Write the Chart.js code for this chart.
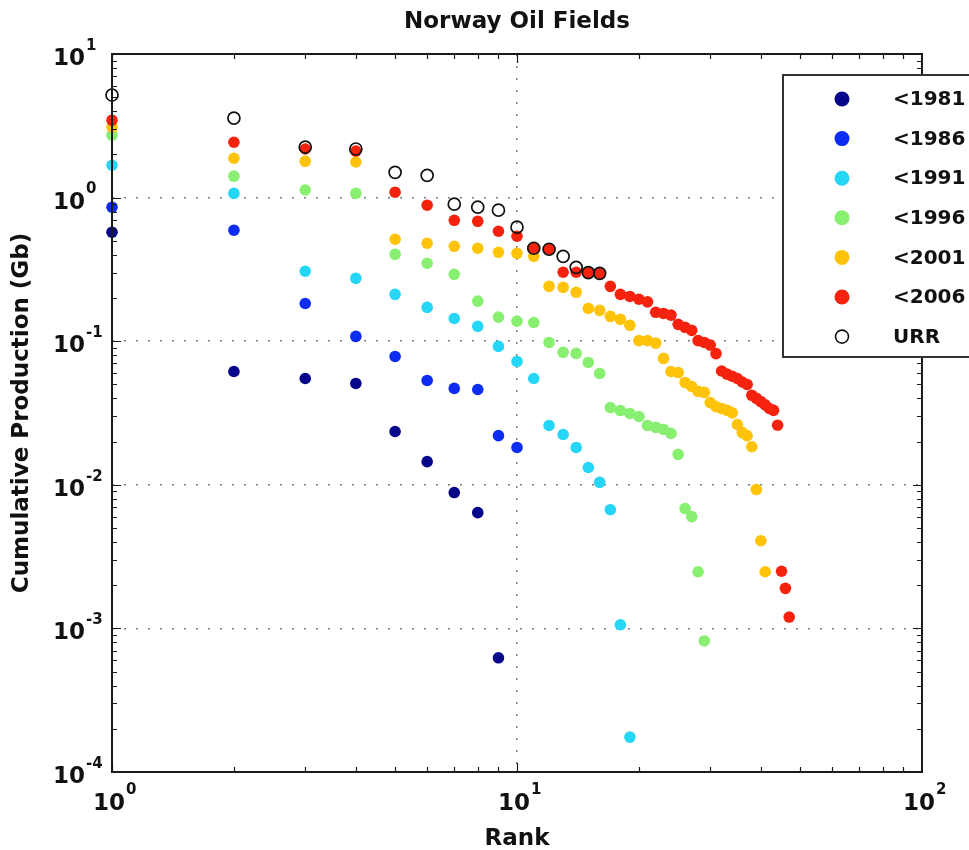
<!DOCTYPE html>
<html>
<head>
<meta charset="utf-8">
<title>Norway Oil Fields</title>
<script src="https://cdn.jsdelivr.net/npm/chart.js@4.4.1/dist/chart.umd.min.js"></script>
<style>
  html, body { margin: 0; padding: 0; background: #fff; }
</style>
</head>
<body>
<canvas id="oilChart" width="969" height="850"></canvas>
<script>
// cumulative production (Gb) by field rank
var prod1981 = [0.574, 0.0615, 0.055, 0.0508, 0.0235, 0.0145, 0.00883, 0.0064, 0.000624];
var prod1986 = [0.857, 0.593, 0.183, 0.108, 0.0783, 0.0533, 0.0469, 0.0461, 0.022, 0.0182];
var prod1991 = [1.68, 1.07, 0.307, 0.274, 0.212, 0.172, 0.144, 0.127, 0.092, 0.0723,
                0.055, 0.0259, 0.0224, 0.0182, 0.0132, 0.0104, 0.00671, 0.00106, 0.000175];
var prod1996 = [2.72, 1.41, 1.13, 1.07, 0.403, 0.349, 0.292, 0.19, 0.147, 0.138,
                0.135, 0.098, 0.0836, 0.0822, 0.0711, 0.0596, 0.0345, 0.0329, 0.0314, 0.0299,
                0.0259, 0.0251, 0.0243, 0.0228, 0.0163, 0.00683, 0.006, 0.00248, 0.000818];
var prod2001 = [3.10, 1.88, 1.79, 1.77, 0.513, 0.481, 0.458, 0.444, 0.416, 0.409,
                0.39, 0.241, 0.237, 0.219, 0.169, 0.164, 0.149, 0.142, 0.129, 0.101,
                0.101, 0.097, 0.0759, 0.0615, 0.0605, 0.0516, 0.0484, 0.0447, 0.044, 0.0374,
                0.035, 0.034, 0.033, 0.0317, 0.0263, 0.0231, 0.022, 0.0184, 0.00927, 0.00408,
                0.00248];
var prod2006 = [3.46, 2.43, 2.18, 2.11, 1.09, 0.885, 0.695, 0.684, 0.583, 0.538,
                0.444, 0.437, 0.302, 0.302, 0.30, 0.297, 0.241, 0.212, 0.205, 0.196,
                0.188, 0.159, 0.156, 0.152, 0.131, 0.125, 0.119, 0.101, 0.098, 0.094,
                0.082, 0.062, 0.059, 0.057, 0.055, 0.052, 0.050, 0.042, 0.040, 0.038,
                0.036, 0.034, 0.033, 0.026, 0.0025, 0.0019, 0.0012];
var urr = [5.18, 3.58, 2.25, 2.18, 1.50, 1.43, 0.90, 0.857, 0.817, 0.622,
           0.444, 0.437, 0.39, 0.327, 0.30, 0.297];

var seriesLabels = ['<1981', '<1986', '<1991', '<1996', '<2001', '<2006', 'URR'];
var seriesColors = ['#06068a', '#0c2cf2', '#26d6f6', '#88ef70', '#ffc30a', '#f5220e', '#111111'];

var xDecades = [1, 10, 100];
var xExps = ['0', '1', '2'];
var yDecades = [1e-4, 1e-3, 1e-2, 1e-1, 1, 10];
var yExps = ['-4', '-3', '-2', '-1', '0', '1'];

var FONT = '"DejaVu Sans", "Liberation Sans", Arial, sans-serif';

var allSeries = [prod1981, prod1986, prod1991, prod1996, prod2001, prod2006, urr];

var datasets = allSeries.map(function (vals, i) {
    var open = i === 6;
    return {
        label: seriesLabels[i],
        data: vals.map(function (v, k) { return { x: k + 1, y: v }; }),
        pointRadius: open ? 6 : 5.8,
        pointHoverRadius: open ? 6 : 5.8,
        pointBackgroundColor: open ? 'rgba(0,0,0,0)' : seriesColors[i],
        pointBorderColor: seriesColors[i],
        pointBorderWidth: open ? 1.7 : 0,
        showLine: false,
        clip: false,
        order: 6 - i  // URR on top, <1981 at the bottom
    };
});

function gridColor(lo, hi) {
    return function (c) {
        var v = c.tick && c.tick.value;
        return (v > lo && v < hi) ? '#7c7c7c' : 'rgba(0,0,0,0)';
    };
}

// box, inner tick marks, tick labels, title and legend
var decor = {
    id: 'decor',
    afterDraw: function (chart) {
        var ctx = chart.ctx, a = chart.chartArea;
        var xs = chart.scales.x, ys = chart.scales.y;
        ctx.save();

        ctx.strokeStyle = '#1a1a1a';
        ctx.lineWidth = 1.2;
        ctx.beginPath();
        xDecades.slice(0, -1).forEach(function (d) {
            for (var m = 1; m < 10; m++) {
                var px = Math.round(xs.getPixelForValue(d * m)) + 0.5;
                var len = m === 1 ? 9 : 5;
                ctx.moveTo(px, a.bottom); ctx.lineTo(px, a.bottom - len);
                ctx.moveTo(px, a.top); ctx.lineTo(px, a.top + len);
            }
        });
        yDecades.slice(0, -1).forEach(function (d) {
            for (var m = 1; m < 10; m++) {
                var py = Math.round(ys.getPixelForValue(d * m)) + 0.5;
                var len = m === 1 ? 9 : 5;
                ctx.moveTo(a.left, py); ctx.lineTo(a.left + len, py);
                ctx.moveTo(a.right, py); ctx.lineTo(a.right - len, py);
            }
        });
        ctx.stroke();

        ctx.lineWidth = 2;
        ctx.strokeRect(a.left, a.top, a.right - a.left, a.bottom - a.top);

        // tick labels 10^n
        ctx.fillStyle = '#111';
        ctx.textBaseline = 'middle';
        xDecades.forEach(function (d, i) {
            var px = xs.getPixelForValue(d);
            ctx.font = 'bold 23px ' + FONT;
            ctx.textAlign = 'center';
            ctx.fillText('10', px - 3, a.bottom + 32);
            ctx.font = 'bold 15px ' + FONT;
            ctx.textAlign = 'left';
            ctx.fillText(xExps[i], px + 14, a.bottom + 18);
        });
        yDecades.forEach(function (d, i) {
            var py = ys.getPixelForValue(d);
            ctx.font = 'bold 23px ' + FONT;
            ctx.textAlign = 'right';
            ctx.fillText('10', 85, py + 5);
            ctx.font = 'bold 15px ' + FONT;
            ctx.textAlign = 'left';
            ctx.fillText(yExps[i], 86, py - 8);
        });

        // title
        ctx.font = 'bold 23px ' + FONT;
        ctx.textAlign = 'center';
        ctx.fillText('Norway Oil Fields', (a.left + a.right) / 2, 22);

        // legend box, partly past the right edge like the original
        var lx = 783, ly = 75, lh = 282;
        ctx.fillStyle = '#fff';
        ctx.fillRect(lx, ly, 200, lh);
        ctx.strokeStyle = '#333';
        ctx.lineWidth = 2;
        ctx.strokeRect(lx, ly, 200, lh);
        chart.data.datasets.forEach(function (ds, i) {
            var cy = 99 + i * 39.6;
            ctx.beginPath();
            if (i === 6) {
                ctx.arc(842, cy, 6.5, 0, Math.PI * 2);
                ctx.lineWidth = 1.6;
                ctx.strokeStyle = '#111';
                ctx.stroke();
            } else {
                ctx.arc(842, cy, 7.5, 0, Math.PI * 2);
                ctx.fillStyle = seriesColors[i];
                ctx.fill();
            }
            ctx.fillStyle = '#111';
            ctx.font = 'bold 20px ' + FONT;
            ctx.textAlign = 'left';
            ctx.fillText(ds.label, 893, cy + 1);
        });
        ctx.restore();
    }
};

new Chart(document.getElementById('oilChart'), {
    type: 'scatter',
    data: { datasets: datasets },
    options: {
        responsive: false,
        animation: false,
        layout: { padding: { top: 54, right: 47, bottom: 0, left: 0 } },
        plugins: {
            legend: { display: false },
            title: { display: false },
            tooltip: { enabled: false }
        },
        scales: {
            x: {
                type: 'logarithmic',
                min: 1,
                max: 100,
                afterBuildTicks: function (s) { s.ticks = xDecades.map(function (v) { return { value: v }; }); },
                afterFit: function (s) { s.height = 78; },
                ticks: { display: false },
                grid: { color: gridColor(1, 100), lineWidth: 1.5, drawTicks: false },
                border: { display: false, dash: [2, 10] },
                title: {
                    display: true, text: 'Rank', color: '#111',
                    font: { family: FONT, size: 23, weight: 'bold' },
                    padding: { top: 0, bottom: -3 }
                }
            },
            y: {
                type: 'logarithmic',
                min: 1e-4,
                max: 10,
                afterBuildTicks: function (s) { s.ticks = yDecades.map(function (v) { return { value: v }; }); },
                afterFit: function (s) { s.width = 112; },
                ticks: { display: false },
                grid: { color: gridColor(1e-4, 10), lineWidth: 1.5, drawTicks: false },
                border: { display: false, dash: [2, 10] },
                title: {
                    display: true, text: 'Cumulative Production (Gb)', color: '#111',
                    font: { family: FONT, size: 23, weight: 'bold' },
                    padding: { top: 8, bottom: 0 }
                }
            }
        }
    },
    plugins: [decor]
});
</script>
</body>
</html>
